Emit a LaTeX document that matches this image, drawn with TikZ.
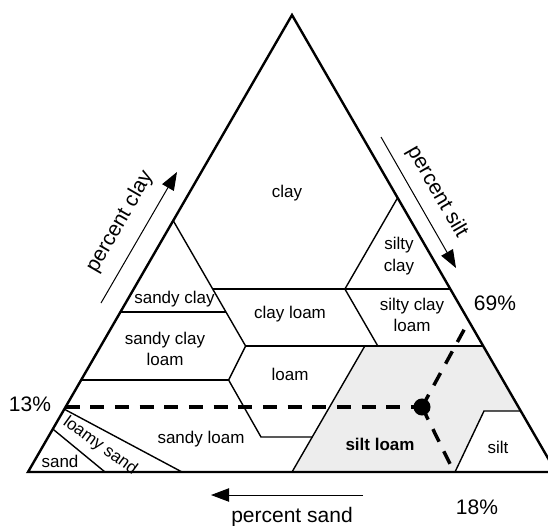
\documentclass[tikz,border=0pt]{standalone}
\usepackage{fontspec}
\setmainfont{Liberation Sans}
\usetikzlibrary{arrows.meta}

\tikzset{
    zone/.style={font=\fontsize{12.75}{16}\selectfont, align=center, inner sep=0pt},
    tag/.style={font=\fontsize{15.75}{18}\selectfont, inner sep=0pt},
    border/.style={line width=1.05pt},
    readoff/.style={line width=2.6pt, dash pattern=on 10.5pt off 8pt},
    direction/.style={line width=0.75pt, -{Triangle[length=13.5pt,width=10pt]}}
}

\begin{document}
\begin{tikzpicture}[x=0.75pt, y=-0.75pt]
    \useasboundingbox (0,0) rectangle (548,525);
    \clip (0,0) rectangle (548,525);

    % corners of the triangle
    \coordinate (sandend) at (28,472);
    \coordinate (siltend) at (556,472);
    \coordinate (clayend) at (292,15);

    % class boundaries
    \coordinate (sc1) at (173.2,220.6);
    \coordinate (c1)  at (212.7,289);
    \coordinate (c2)  at (344.9,289);
    \coordinate (c3)  at (397.6,197.8);
    \coordinate (c4)  at (450.3,289);
    \coordinate (sc2) at (120.4,312);
    \coordinate (sc3) at (226,312);
    \coordinate (cl1) at (245.6,346);
    \coordinate (cl2) at (377.8,346);
    \coordinate (cl3) at (483.2,346);
    \coordinate (sl1) at (364.8,346);
    \coordinate (sl2) at (292,472);
    \coordinate (scl1) at (81.1,380);
    \coordinate (scl2) at (228.6,380);
    \coordinate (l1) at (261,437);
    \coordinate (l2) at (312.2,437);
    \coordinate (si1) at (520.8,411);
    \coordinate (si2) at (484,411);
    \coordinate (si3) at (455,472);
    \coordinate (ls1) at (64,409);
    \coordinate (ls2) at (182,472);
    \coordinate (s1) at (52.8,429);
    \coordinate (s2) at (105,472);

    % silt loam, shaded
    \fill[black!7] (sl1) -- (cl3) -- (si1) -- (si2) -- (si3) -- (sl2) -- cycle;

    \draw[border] (sc1) -- (cl1);
    \draw[border] (c1) -- (c4);
    \draw[border] (c3) -- (c2) -- (cl2);
    \draw[border] (sc2) -- (sc3);
    \draw[border] (cl1) -- (cl3);
    \draw[border] (scl1) -- (scl2);
    \draw[border] (cl1) -- (scl2) -- (l1) -- (l2);
    \draw[border] (sl1) -- (sl2);
    \draw[border] (si1) -- (si2) -- (si3);
    \draw[border] (ls1) -- (ls2);
    \draw[border] (s1) -- (s2);

    \draw[line width=1.8pt] (sandend) -- (clayend) -- (siltend) -- cycle;

    % reading the sample off the axes
    \coordinate (dot) at (422,407);
    \coordinate (claymark) at (65.5,407);
    \coordinate (siltmark) at (468.8,321);
    \coordinate (sandmark) at (454,472);
    \draw[readoff] (claymark) -- (dot);
    \draw[readoff] (dot) -- (siltmark);
    \draw[readoff] (dot) -- (sandmark);
    \fill (dot) circle (6.4pt);

    % class names
    \node[zone] (clay) at (287,193) {clay};
    \node[zone] (siltyclay) at (399,256) {silty\\clay};
    \node[zone] (sandyclay) at (174.5,299) {sandy clay};
    \node[zone] (clayloam) at (290,314) {clay loam};
    \node[zone] (siltyclayloam) at (412,315) {silty clay\\loam};
    \node[zone] (sandyclayloam) at (165,349) {sandy clay\\loam};
    \node[zone] (loam) at (290,374) {loam};
    \node[zone] (sandyloam) at (201,439) {sandy loam};
    \node[zone, font=\fontsize{12.75}{16}\selectfont\bfseries] (siltloam) at (380,444) {silt loam};
    \node[zone] (silt) at (498,447) {silt};
    \node[zone] (sand) at (60,461) {sand};
    \node[zone, rotate=-36] (loamysand) at (100,446) {loamy sand};

    % axes
    \coordinate (claytail) at (101,303);
    \coordinate (clayhead) at (177,172);
    \coordinate (silttail) at (381,137);
    \coordinate (silthead) at (456,268);
    \coordinate (sandtail) at (363,495);
    \coordinate (sandhead) at (211,495);
    \draw[direction] (claytail) -- (clayhead);
    \draw[direction] (silttail) -- (silthead);
    \draw[direction] (sandtail) -- (sandhead);
    \node[tag, rotate=60] (claylabel) at (120,222) {percent clay};
    \node[tag, rotate=-60] (siltlabel) at (437,192) {percent silt};
    \node[tag, anchor=base] (sandlabel) at (292,522) {percent sand};

    \node[tag] (clayvalue) at (30,404) {13\%};
    \node[tag] (siltvalue) at (495,303) {69\%};
    \node[tag] (sandvalue) at (477,507) {18\%};
\end{tikzpicture}
\end{document}
